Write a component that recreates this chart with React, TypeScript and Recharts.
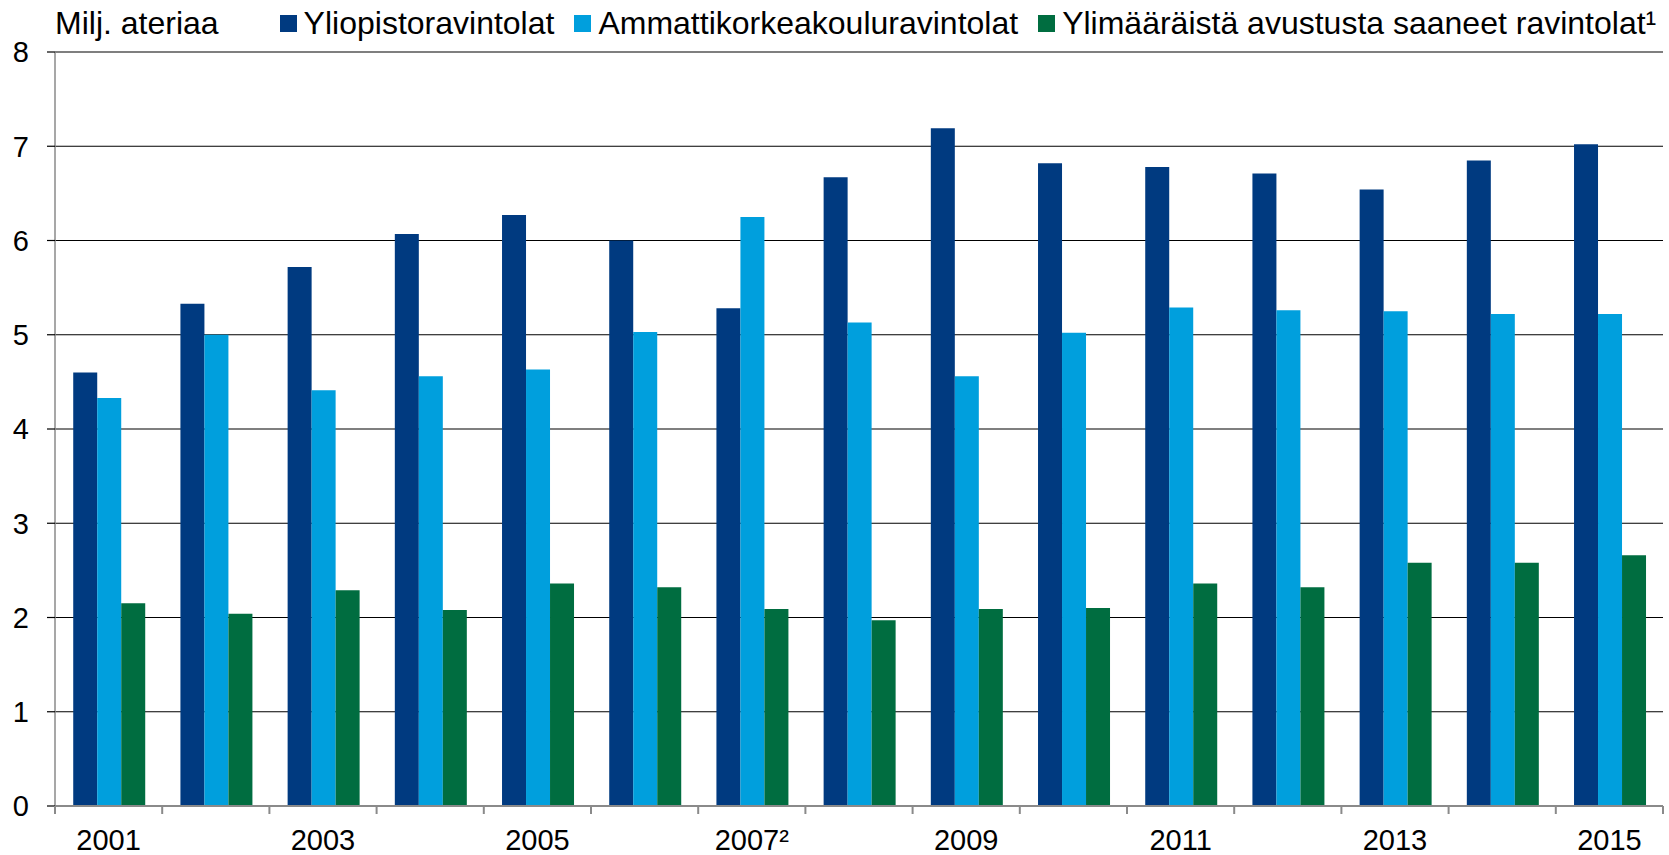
import React from 'react';
import { BarChart, Bar, XAxis, YAxis, CartesianGrid, Legend } from 'recharts';

const years = [
  '2001', '2002', '2003', '2004', '2005', '2006', '2007²', '2008',
  '2009', '2010', '2011', '2012', '2013', '2014', '2015',
];
const yliopisto = [4.6, 5.33, 5.72, 6.07, 6.27, 6.0, 5.28, 6.67, 7.19, 6.82, 6.78, 6.71, 6.54, 6.85, 7.02];
const amk = [4.33, 5.0, 4.41, 4.56, 4.63, 5.03, 6.25, 5.13, 4.56, 5.02, 5.29, 5.26, 5.25, 5.22, 5.22];
const ylimaaraiset = [2.15, 2.04, 2.29, 2.08, 2.36, 2.32, 2.09, 1.97, 2.09, 2.1, 2.36, 2.32, 2.58, 2.58, 2.66];
const yTicks = [0, 1, 2, 3, 4, 5, 6, 7, 8];
const unitLabel = 'Milj. ateriaa';

const series = [
  { key: 'yliopisto', name: 'Yliopistoravintolat', color: '#003A80' },
  { key: 'amk', name: 'Ammattikorkeakouluravintolat', color: '#009FDD' },
  { key: 'ylimaaraiset', name: 'Ylimääräistä avustusta saaneet ravintolat¹', color: '#006D40' },
];

const data = years.map((year, i) => ({
  year,
  yliopisto: yliopisto[i],
  amk: amk[i],
  ylimaaraiset: ylimaaraiset[i],
}));

const WIDTH = 1669;
const HEIGHT = 855;
const Y_AXIS_WIDTH = 55;
const X_AXIS_HEIGHT = 49;
const MARGIN_RIGHT = 6;
const PLOT_BOTTOM = HEIGHT - X_AXIS_HEIGHT;
const BAND = (WIDTH - Y_AXIS_WIDTH - MARGIN_RIGHT) / years.length;
const AXIS_GRAY = '#8a8a8a';
const FONT = '"Liberation Sans", Arial, sans-serif';

// tick marks sit between categories, labels only on every other year
const YearTick = (props: any) => {
  const { x, index, payload } = props;
  const isLast = index === years.length - 1;
  return (
    <g>
      <line x1={x - BAND / 2} x2={x - BAND / 2} y1={PLOT_BOTTOM} y2={PLOT_BOTTOM + 8} stroke={AXIS_GRAY} strokeWidth={2} />
      {isLast && (
        <line x1={x + BAND / 2} x2={x + BAND / 2} y1={PLOT_BOTTOM} y2={PLOT_BOTTOM + 8} stroke={AXIS_GRAY} strokeWidth={2} />
      )}
      {index % 2 === 0 && (
        <text x={x} y={PLOT_BOTTOM + 44} textAnchor="middle" fontSize={29} fill="#000" fontFamily={FONT}>
          {payload.value}
        </text>
      )}
    </g>
  );
};

// legend keeps the series order and carries the unit label in front
const LegendContent = () => (
  <div
    style={{
      height: 52,
      paddingBottom: 5,
      boxSizing: 'border-box',
      display: 'flex',
      alignItems: 'center',
      paddingLeft: 55,
      fontFamily: FONT,
      fontSize: 32,
      color: '#000',
      whiteSpace: 'nowrap',
    }}
  >
    <span style={{ marginRight: 61 }}>{unitLabel}</span>
    {series.map((s) => (
      <span key={s.key} style={{ display: 'flex', alignItems: 'center', marginRight: 20 }}>
        <span style={{ width: 17, height: 17, background: s.color, marginRight: 7, display: 'inline-block' }} />
        {s.name}
      </span>
    ))}
  </div>
);

export default function App() {
  return (
    <div style={{ position: 'absolute', left: 0, top: 0, background: '#fff' }}>
      <BarChart
        width={WIDTH}
        height={HEIGHT}
        data={data}
        margin={{ top: 0, right: MARGIN_RIGHT, left: 0, bottom: 0 }}
        barCategoryGap="17%"
        barGap={0}
      >
        <CartesianGrid vertical={false} stroke="#000" strokeWidth={1.2} />
        <XAxis
          dataKey="year"
          interval={0}
          height={X_AXIS_HEIGHT}
          tickLine={false}
          axisLine={{ stroke: AXIS_GRAY, strokeWidth: 2 }}
          tick={<YearTick />}
        />
        <YAxis
          width={Y_AXIS_WIDTH}
          domain={[0, 8]}
          ticks={yTicks}
          interval={0}
          tickSize={8}
          tickMargin={18}
          tickLine={{ stroke: '#000', strokeWidth: 1.2 }}
          axisLine={{ stroke: AXIS_GRAY, strokeWidth: 1.5 }}
          tick={{ fontSize: 29, fill: '#000', fontFamily: FONT }}
        />
        <Legend verticalAlign="top" align="left" content={<LegendContent />} wrapperStyle={{ top: 0, left: 0 }} />
        {series.map((s) => (
          <Bar key={s.key} dataKey={s.key} name={s.name} fill={s.color} isAnimationActive={false} />
        ))}
      </BarChart>
    </div>
  );
}
